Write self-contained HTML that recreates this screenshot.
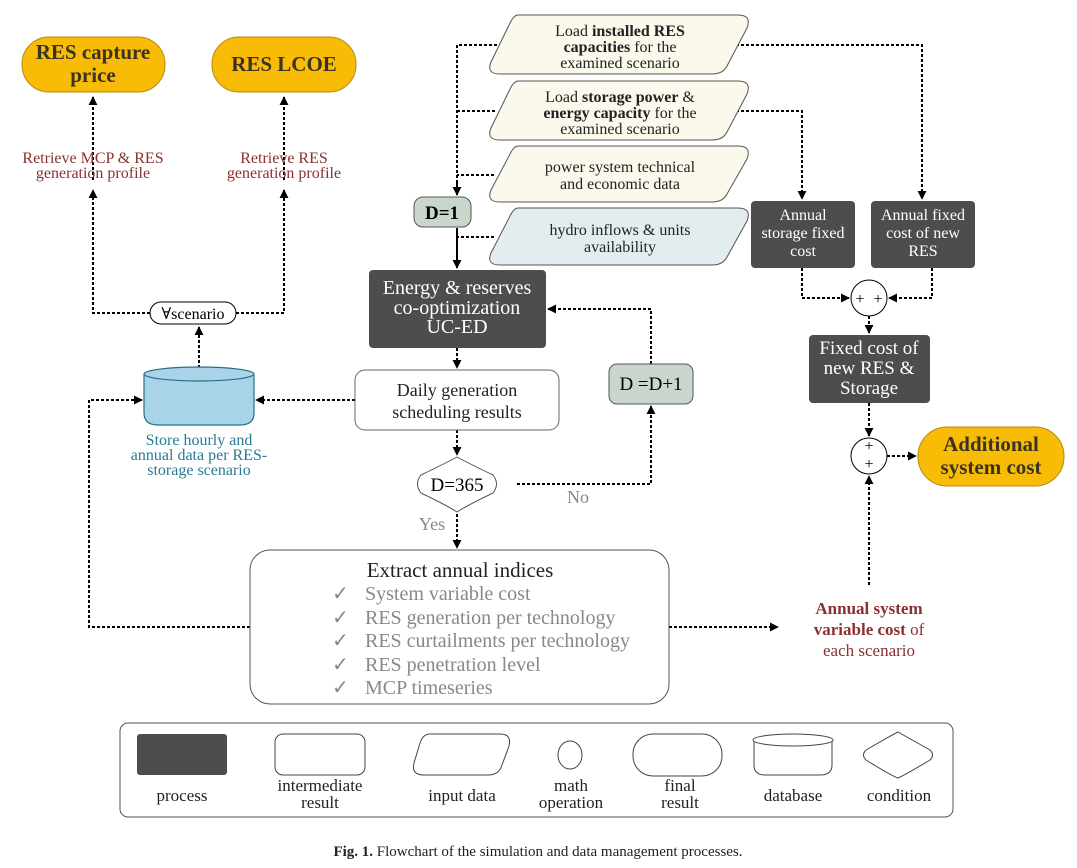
<!DOCTYPE html>
<html><head><meta charset="utf-8"><style>
html,body{margin:0;padding:0;background:#fff;}
svg{display:block;font-family:"Liberation Serif","DejaVu Serif",serif;}
</style></head><body>
<svg width="1077" height="868" viewBox="0 0 1077 868" xmlns="http://www.w3.org/2000/svg">
<defs>
<marker id="a" viewBox="0 0 10 10" refX="9" refY="5" markerWidth="9" markerHeight="9" orient="auto" markerUnits="userSpaceOnUse"><path d="M0,0 L10,5 L0,10 z" fill="#000"/></marker>
</defs>
<g fill="none" stroke="#000" stroke-width="2" stroke-dasharray="3,2">
<path d="M93,180 L93,97" marker-end="url(#a)"/>
<path d="M284,180 L284,97" marker-end="url(#a)"/>
<path d="M150,313 L93,313 L93,190" marker-end="url(#a)"/>
<path d="M236,313 L284,313 L284,190" marker-end="url(#a)"/>
<path d="M199,368 L199,327" marker-end="url(#a)"/>
<path d="M497,45 L457,45 L457,195"/>
<path d="M495,111 L457,111"/>
<path d="M494,175 L457,175"/>
<path d="M494,237 L457,237"/>
<path d="M457,348 L457,368" marker-end="url(#a)"/>
<path d="M355,400 L256,400" marker-end="url(#a)"/>
<path d="M457,430 L457,455" marker-end="url(#a)"/>
<path d="M517,484 L651,484 L651,406" marker-end="url(#a)"/>
<path d="M651,364 L651,309 L548,309" marker-end="url(#a)"/>
<path d="M457,514 L457,548" marker-end="url(#a)"/>
<path d="M250,627 L89,627 L89,400 L142,400" marker-end="url(#a)"/>
<path d="M669,627 L778,627" marker-end="url(#a)"/>
<path d="M869,585 L869,476" marker-end="url(#a)"/>
<path d="M887,456 L916,456" marker-end="url(#a)"/>
<path d="M869,403 L869,436" marker-end="url(#a)"/>
<path d="M869,316 L869,333" marker-end="url(#a)"/>
<path d="M802,268 L802,298 L849,298" marker-end="url(#a)"/>
<path d="M932,268 L932,298 L889,298" marker-end="url(#a)"/>
<path d="M736,45 L922,45 L922,199" marker-end="url(#a)"/>
<path d="M736,111 L802,111 L802,199" marker-end="url(#a)"/>
</g>
<g stroke="#000" stroke-width="2" fill="none">
<path d="M457,180 L457,195" marker-end="url(#a)"/>
<path d="M457,228 L457,268" marker-end="url(#a)"/>
</g>
<rect x="22" y="37" width="143" height="55" rx="27" fill="#f9bc06" stroke="#b58a10"/>
<rect x="212" y="37" width="144" height="55" rx="27" fill="#f9bc06" stroke="#b58a10"/>
<g font-weight="bold" font-size="21" fill="#3a3320" text-anchor="middle">
<text x="93" y="59">RES capture</text><text x="93" y="82">price</text>
<text x="284" y="71">RES LCOE</text>
</g>
<g font-size="16" fill="#8b3030" text-anchor="middle">
<text x="93" y="163">Retrieve MCP &amp; RES</text><text x="93" y="178">generation profile</text>
<text x="284" y="163">Retrieve RES</text><text x="284" y="178">generation profile</text>
</g>
<rect x="150" y="302" width="86" height="22" rx="11" fill="#fff" stroke="#000"/>
<text x="193" y="319" font-size="16" text-anchor="middle">∀scenario</text>
<path d="M144,374 L144,413 Q144,425 158,425 L240,425 Q254,425 254,413 L254,374 Z" fill="#a9d3e7" stroke="#2a6f8a" stroke-width="1.2"/>
<ellipse cx="199" cy="374" rx="55" ry="7" fill="#a9d3e7" stroke="#2a6f8a" stroke-width="1.2"/>
<g font-size="16" fill="#2a7a95" text-anchor="middle">
<text x="199" y="445">Store hourly and</text><text x="199" y="460">annual data per RES-</text><text x="199" y="475">storage scenario</text>
</g>
<g stroke="#555" stroke-width="1">
<path d="M518,15 L738,15 Q752,15 747,28 L727,66 Q723,74 712,74 L500,74 Q486,74 491,62 L510,23 Q514,15 518,15Z" fill="#fbf8ec"/>
<path d="M518,81 L738,81 Q752,81 747,94 L727,132 Q723,140 712,140 L500,140 Q486,140 491,128 L510,89 Q514,81 518,81Z" fill="#fbf8ec"/>
<path d="M518,146 L738,146 Q752,146 747,159 L727,194 Q723,202 712,202 L500,202 Q486,202 491,190 L510,154 Q514,146 518,146Z" fill="#fbf8ec"/>
<path d="M518,208 L738,208 Q752,208 747,221 L727,257 Q723,265 712,265 L500,265 Q486,265 491,253 L510,216 Q514,208 518,208Z" fill="#e3ecef"/>
</g>
<g font-size="16" fill="#222" text-anchor="middle">
<text x="620" y="36">Load <tspan font-weight="bold">installed RES</tspan></text>
<text x="620" y="52"><tspan font-weight="bold">capacities</tspan> for the</text>
<text x="620" y="68">examined scenario</text>
<text x="620" y="102">Load <tspan font-weight="bold">storage power</tspan> &amp;</text>
<text x="620" y="118"><tspan font-weight="bold">energy capacity</tspan> for the</text>
<text x="620" y="134">examined scenario</text>
<text x="620" y="172">power system technical</text>
<text x="620" y="189">and economic data</text>
<text x="620" y="235">hydro inflows &amp; units</text>
<text x="620" y="252">availability</text>
</g>
<rect x="414" y="197" width="57" height="30" rx="9" fill="#c9d6cc" stroke="#555"/>
<text x="442" y="219" font-size="19" font-weight="bold" text-anchor="middle">D=1</text>
<rect x="369" y="270" width="177" height="78" rx="4" fill="#4d4d4d"/>
<g font-size="20" fill="#fff" text-anchor="middle">
<text x="457" y="294">Energy &amp; reserves</text><text x="457" y="314">co-optimization</text><text x="457" y="333">UC-ED</text>
</g>
<rect x="355" y="370" width="204" height="60" rx="10" fill="#fff" stroke="#666"/>
<g font-size="18" text-anchor="middle" fill="#222">
<text x="457" y="396">Daily generation</text><text x="457" y="418">scheduling results</text>
</g>
<path d="M457,457 Q466,462 493,475 Q500,484 493,493 Q466,506 457,512 Q448,506 421,493 Q414,484 421,475 Q448,462 457,457Z" fill="#fff" stroke="#555"/>
<text x="457" y="491" font-size="19" text-anchor="middle">D=365</text>
<text x="578" y="503" font-size="18" fill="#888" text-anchor="middle">No</text>
<text x="432" y="530" font-size="18" fill="#888" text-anchor="middle">Yes</text>
<rect x="609" y="364" width="84" height="40" rx="8" fill="#c9d6cc" stroke="#555"/>
<text x="651" y="390" font-size="19" text-anchor="middle">D =D+1</text>
<rect x="250" y="550" width="419" height="154" rx="20" fill="#fff" stroke="#555"/>
<text x="460" y="577" font-size="21" text-anchor="middle" fill="#222">Extract annual indices</text>
<g font-size="20" fill="#888">
<text x="332" y="600">✓</text><text x="365" y="600">System variable cost</text>
<text x="332" y="624">✓</text><text x="365" y="624">RES generation per technology</text>
<text x="332" y="647">✓</text><text x="365" y="647">RES curtailments per technology</text>
<text x="332" y="671">✓</text><text x="365" y="671">RES penetration level</text>
<text x="332" y="694">✓</text><text x="365" y="694">MCP timeseries</text>
</g>
<g font-size="17" fill="#8b3030" text-anchor="middle">
<text x="869" y="614" font-weight="bold">Annual system</text>
<text x="869" y="635"><tspan font-weight="bold">variable cost</tspan> of</text>
<text x="869" y="656">each scenario</text>
</g>
<rect x="751" y="201" width="104" height="67" rx="4" fill="#4d4d4d"/>
<rect x="871" y="201" width="104" height="67" rx="4" fill="#4d4d4d"/>
<g font-size="16" fill="#fff" text-anchor="middle">
<text x="803" y="220">Annual</text><text x="803" y="238">storage fixed</text><text x="803" y="256">cost</text>
<text x="923" y="220">Annual fixed</text><text x="923" y="238">cost of new</text><text x="923" y="256">RES</text>
</g>
<circle cx="869" cy="298" r="18" fill="#fff" stroke="#000"/>
<text x="860" y="304" font-size="16" text-anchor="middle">+</text><text x="878" y="304" font-size="16" text-anchor="middle">+</text>
<rect x="809" y="335" width="121" height="68" rx="4" fill="#4d4d4d"/>
<g font-size="19" fill="#fff" text-anchor="middle">
<text x="869" y="354">Fixed cost of</text><text x="869" y="374">new RES &amp;</text><text x="869" y="394">Storage</text>
</g>
<circle cx="869" cy="456" r="18" fill="#fff" stroke="#000"/>
<text x="869" y="451" font-size="16" text-anchor="middle">+</text><text x="869" y="469" font-size="16" text-anchor="middle">+</text>
<rect x="918" y="427" width="146" height="59" rx="29" fill="#f9bc06" stroke="#b58a10"/>
<g font-weight="bold" font-size="21" fill="#3a3320" text-anchor="middle">
<text x="991" y="451">Additional</text><text x="991" y="474">system cost</text>
</g>
<rect x="120" y="723" width="833" height="94" rx="8" fill="#fff" stroke="#555"/>
<rect x="137" y="734" width="90" height="41" rx="3" fill="#4d4d4d"/>
<rect x="275" y="734" width="90" height="41" rx="8" fill="#fff" stroke="#444"/>
<path d="M430,734 L500,734 Q512,734 509,746 L502,765 Q499,775 488,775 L424,775 Q411,775 414,763 L420,743 Q423,734 430,734Z" fill="#fff" stroke="#444"/>
<ellipse cx="570" cy="755" rx="12" ry="14" fill="#fff" stroke="#444"/>
<rect x="633" y="734" width="89" height="42" rx="20" fill="#fff" stroke="#444"/>
<path d="M754,740 L754,765 Q754,775 765,775 L820,775 Q832,775 832,765 L832,740" fill="#fff" stroke="#444"/>
<ellipse cx="793" cy="740" rx="40" ry="6" fill="#fff" stroke="#444"/>
<path d="M898,732 Q905,736 930,750 Q935,755 930,760 Q905,775 898,778 Q890,775 866,760 Q861,755 866,750 Q890,736 898,732Z" fill="#fff" stroke="#444"/>
<g font-size="17" fill="#222" text-anchor="middle">
<text x="182" y="801">process</text>
<text x="320" y="791">intermediate</text><text x="320" y="808">result</text>
<text x="462" y="801">input data</text>
<text x="571" y="791">math</text><text x="571" y="808">operation</text>
<text x="680" y="791">final</text><text x="680" y="808">result</text>
<text x="793" y="801">database</text>
<text x="899" y="801">condition</text>
</g>
<text x="538" y="856" font-size="15" text-anchor="middle" fill="#222"><tspan font-weight="bold">Fig. 1.</tspan> Flowchart of the simulation and data management processes.</text>
</svg>
</body></html>
